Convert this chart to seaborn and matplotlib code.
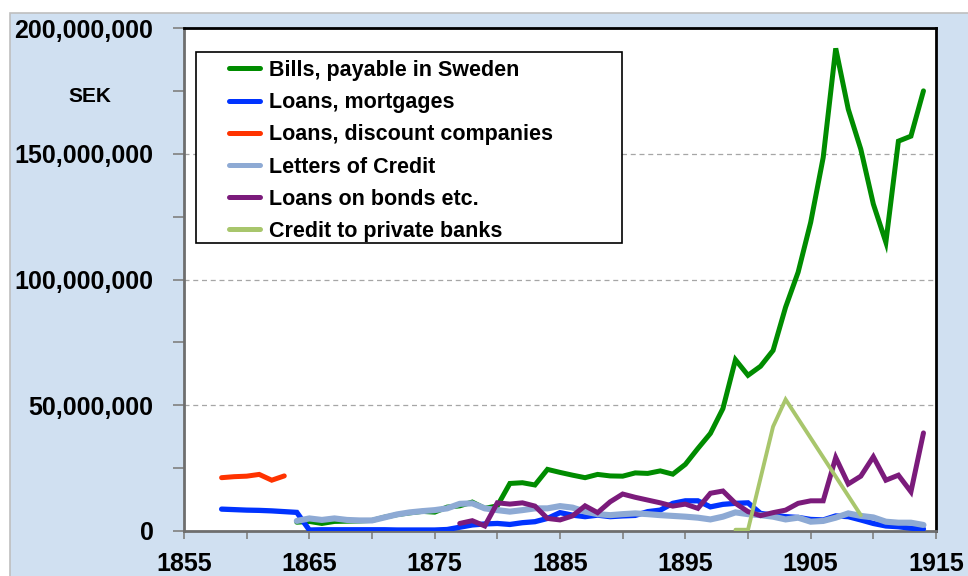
import matplotlib
matplotlib.use("Agg")
import numpy as np
import pandas as pd
import matplotlib.pyplot as plt
import matplotlib.ticker as mticker
from matplotlib.patches import Rectangle
import seaborn as sns

# ------------------------------------------------------------
# data (million SEK)
# ------------------------------------------------------------
bills_years = list(range(1864, 1915))
bills = [3.5, 3.8, 3.0, 3.8, 3.9, 4.0, 4.2, 5.5, 6.5, 7.2, 7.8, 7.5, 9.5, 10.0, 11.5,
         9.0, 10.0, 18.9, 19.2, 18.3, 24.5, 23.3, 22.2, 21.2, 22.5, 21.9, 21.8, 23.1,
         22.9, 23.9, 22.6, 26.5, 32.8, 38.8, 48.7, 68.1, 61.9, 65.5, 71.8, 89.0, 102.9,
         122.7, 148.5, 191.9, 167.7, 151.8, 130.0, 114.8, 155.0, 157.0, 175.0]

mortgage_years = list(range(1858, 1915))
mortgages = [8.7, 8.5, 8.3, 8.2, 8.0, 7.7, 7.4, 0.4, 0.5, 0.5, 0.5, 0.5, 0.5, 0.5,
             0.4, 0.4, 0.4, 0.4, 0.6, 1.5, 2.4, 2.8, 3.0, 2.6, 3.3, 3.7, 5.0, 7.3,
             6.3, 5.7, 6.3, 5.7, 6.0, 6.2, 7.7, 8.3, 11.0, 12.0, 12.0, 9.6, 10.6,
             11.0, 11.2, 7.0, 6.3, 5.7, 5.4, 4.6, 4.4, 6.0, 5.7, 4.4, 3.0, 2.0, 1.7,
             1.1, 0.8]

discount_years = list(range(1858, 1864))
discount = [21.2, 21.6, 21.8, 22.5, 20.2, 21.9]

letters_years = list(range(1864, 1915))
letters = [4.0, 5.0, 4.4, 5.0, 4.4, 4.2, 4.2, 5.4, 6.6, 7.4, 7.9, 8.3, 9.0, 10.8,
           11.0, 9.0, 8.3, 7.7, 8.3, 9.0, 9.0, 9.9, 9.3, 7.7, 6.7, 6.3, 6.7, 7.0,
           6.7, 6.3, 6.0, 5.7, 5.3, 4.6, 5.7, 7.4, 6.7, 6.3, 5.7, 4.6, 5.3, 3.7,
           4.0, 5.3, 7.0, 6.0, 5.4, 3.7, 3.3, 3.3, 2.4]

bonds_years = list(range(1877, 1915))
bonds = [3.0, 4.1, 2.0, 11.2, 10.7, 11.2, 9.9, 5.0, 4.4, 6.0, 10.0, 7.3, 11.6, 14.7,
         13.4, 12.3, 11.2, 9.9, 10.7, 9.0, 15.0, 15.9, 11.0, 7.7, 6.1, 7.3, 8.3,
         11.0, 12.0, 12.0, 29.2, 18.7, 21.8, 29.5, 20.2, 22.2, 15.6, 39.0]

private_years = [1899, 1900, 1902, 1903, 1909]
private_banks = [0.5, 0.5, 41.5, 52.3, 6.3]

series = [
    ("Bills, payable in Sweden", bills_years, bills, "#008C00", 3.6),
    ("Loans, mortgages", mortgage_years, mortgages, "#0033FF", 3.8),
    ("Loans, discount companies", discount_years, discount, "#FF3300", 3.6),
    ("Letters of Credit", letters_years, letters, "#8EAAD4", 4.4),
    ("Loans on bonds etc.", bonds_years, bonds, "#7B1B7B", 3.6),
    ("Credit to private banks", private_years, private_banks, "#A8C66C", 2.8),
]

# ------------------------------------------------------------
# plot
# ------------------------------------------------------------
sns.set_theme(style="white")
plt.rcParams['font.family'] = ['Liberation Sans', 'DejaVu Sans']
plt.rcParams['font.weight'] = 'bold'
plt.rcParams['text.color'] = 'black'
plt.rcParams['xtick.labelcolor'] = 'black'
plt.rcParams['ytick.labelcolor'] = 'black'

fig = plt.figure(figsize=(9.68, 5.76), dpi=100, facecolor="white")
# light blue chart area with a thin grey border
bg = Rectangle((10 / 968, -0.01), 1.0, (563 / 576) + 0.01,
               transform=fig.transFigure, facecolor="#D0E0F1",
               edgecolor="#BFBFBF", linewidth=1.2, zorder=-10)
fig.patches.append(bg)

ax = fig.add_axes([184 / 968, 45 / 576, 752 / 968, 503 / 576])
ax.set_facecolor("white")
ax.set_zorder(1)

for i, (name, yrs, vals, col, lw) in enumerate(series):
    df = pd.DataFrame({"year": yrs, "value": np.array(vals) * 1e6})
    sns.lineplot(data=df, x="year", y="value", ax=ax, color=col, linewidth=lw,
                 label=name, zorder=3 + i * 0.1, solid_joinstyle="miter")

ax.set_xlim(1855, 1915)
ax.set_ylim(0, 200e6)
ax.set_xticks(range(1855, 1916, 10))
ax.xaxis.set_minor_locator(mticker.MultipleLocator(5))
ax.yaxis.set_major_locator(mticker.MultipleLocator(50e6))
ax.yaxis.set_minor_locator(mticker.MultipleLocator(25e6))
ax.yaxis.set_major_formatter(mticker.FuncFormatter(lambda v, p: f"{v:,.0f}"))

ax.set_xlabel("")
ax.set_ylabel("")
ax.grid(axis="y", which="major", color="#A6A6A6", linestyle=(0, (4, 3)), linewidth=0.9)
ax.set_axisbelow(True)
for gl in ax.get_ygridlines():
    if gl.get_ydata()[0] in (0, 200e6):
        gl.set_visible(False)

ax.tick_params(axis="both", which="both", direction="out", color="#808080",
               width=1.2, labelsize=18)
ax.tick_params(axis="y", which="both", length=8, pad=14, left=True)
ax.tick_params(axis="x", which="both", length=6, pad=9, bottom=True)
for lab in ax.get_xticklabels() + ax.get_yticklabels():
    lab.set_fontweight("bold")

for side in ["top", "right"]:
    ax.spines[side].set_color("black")
    ax.spines[side].set_linewidth(2.0)
for side in ["left", "bottom"]:
    ax.spines[side].set_color("#6E6E6E")
    ax.spines[side].set_linewidth(2.0)

# legend box
ax.add_patch(Rectangle(((196 - 184) / 752, (531 - 243) / 503), (622 - 196) / 752,
                       (243 - 52) / 503, transform=ax.transAxes, facecolor="white",
                       edgecolor="black", linewidth=1.2, zorder=4))
leg = ax.legend(loc="upper left", bbox_to_anchor=((229 - 184) / 752, (531 - 60) / 503),
                frameon=False, borderpad=0, borderaxespad=0, handlelength=1.45,
                handletextpad=0.4, labelspacing=0.52,
                prop={"weight": "bold", "size": 15.5})
leg.set_zorder(5)
for h in leg.get_lines():
    h.set_linewidth(3.6)

fig.text(90 / 968, 1 - 97 / 576, "SEK", ha="center", va="center",
         fontsize=15, fontweight="bold")

plt.savefig("out.png", dpi=100)
